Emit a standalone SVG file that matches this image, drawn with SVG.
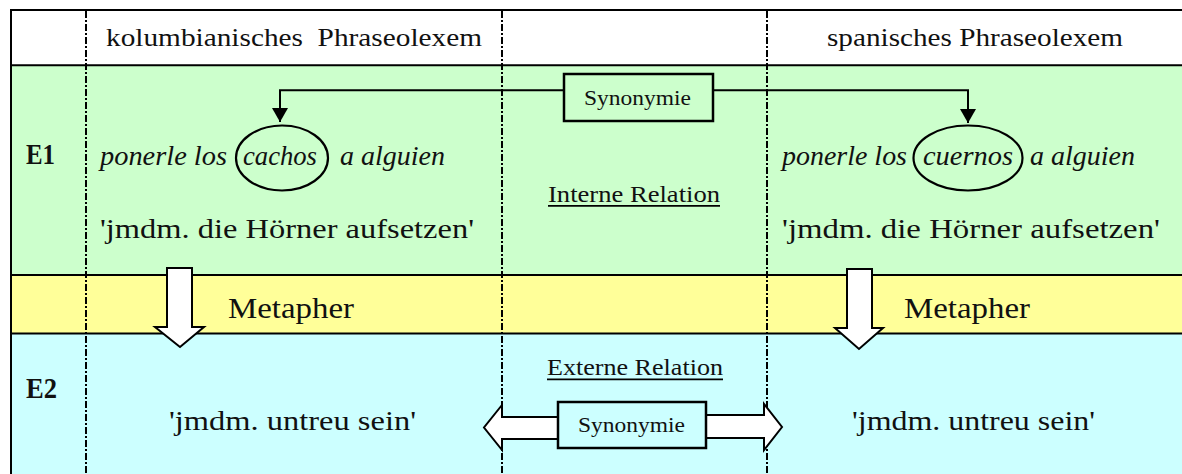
<svg xmlns="http://www.w3.org/2000/svg" width="1182" height="474" viewBox="0 0 1182 474">
  <style>
    .t { font-family: "Liberation Serif", "Times New Roman", serif; fill: #111; white-space: pre; }
    .hd { font-size: 26px; }
    .main { font-size: 27px; }
    .it { font-size: 27px; font-style: italic; }
    .lbl { font-size: 29px; font-weight: bold; }
    .met { font-size: 29px; }
    .syn { font-size: 22px; }
    .rel { font-size: 24px; }
    .grid { stroke: #000; stroke-width: 2; fill: none; }
    .dash { stroke: #000; stroke-width: 2; stroke-dasharray: 7 2 2 2; fill: none; }
    .line { stroke: #000; stroke-width: 2; fill: none; }
    .block { fill: #fff; stroke: #000; stroke-width: 2; stroke-linejoin: miter; }
    .box { stroke: #000; stroke-width: 2.5; }
    .ell { fill: none; stroke: #000; stroke-width: 2.2; }
    .ul { stroke: #000; stroke-width: 1.7; }
  </style>
  <defs>
    <!-- filled arrowhead, drawn pointing along the path direction -->
    <marker id="tri" viewBox="0 0 14 16" refX="14" refY="8" markerWidth="14" markerHeight="16" markerUnits="userSpaceOnUse" orient="auto">
      <path d="M0,0 L14,8 L0,16 Z" fill="#000"/>
    </marker>
  </defs>

  <!-- row backgrounds -->
  <rect x="0" y="0" width="1182" height="474" fill="#fff"/>
  <rect id="row-e1" x="11" y="65" width="1171" height="210" fill="#CCFFCC"/>
  <rect id="row-metapher" x="11" y="275" width="1171" height="58.5" fill="#FFFF99"/>
  <rect id="row-e2" x="11" y="333.5" width="1171" height="141" fill="#CCFFFF"/>

  <!-- table rules -->
  <g id="grid">
    <line class="grid" x1="11" y1="10" x2="1182" y2="10"/>
    <line class="grid" x1="11" y1="65.3" x2="1182" y2="65.3"/>
    <line class="grid" x1="11" y1="275" x2="1182" y2="275"/>
    <line class="grid" x1="11" y1="333.5" x2="1182" y2="333.5"/>
    <line class="grid" x1="11" y1="9" x2="11" y2="474"/>
    <line class="dash" x1="86" y1="11" x2="86" y2="474"/>
    <line class="dash" x1="502" y1="11" x2="502" y2="474"/>
    <line class="dash" x1="767" y1="11" x2="767" y2="474"/>
  </g>

  <!-- column headers -->
  <g id="header-kolumbianisch">
    <text class="t hd" x="106" y="46" textLength="376" lengthAdjust="spacingAndGlyphs">kolumbianisches  Phraseolexem</text>
  </g>
  <g id="header-spanisch">
    <text class="t hd" x="827" y="46" textLength="296" lengthAdjust="spacingAndGlyphs">spanisches Phraseolexem</text>
  </g>

  <!-- level labels -->
  <g id="label-e1"><text class="t lbl" x="26" y="164" textLength="29" lengthAdjust="spacingAndGlyphs">E1</text></g>
  <g id="label-e2"><text class="t lbl" x="26" y="398" textLength="31" lengthAdjust="spacingAndGlyphs">E2</text></g>

  <!-- connectors -->
  <g id="connectors">
    <polyline class="line" points="564,90.3 280,90.3 280,122" marker-end="url(#tri)"/>
    <polyline class="line" points="713,90.3 968,90.3 968,123" marker-end="url(#tri)"/>
    <!-- Metapher: downward block arrows -->
    <polygon class="block" points="167,268 192,268 192,327 204,327 180,347 155,327 167,327"/>
    <polygon class="block" points="847,269 872,269 872,328 883,328 859,349 835,328 847,328"/>
    <!-- external synonymy: double block arrow -->
    <polygon class="block" points="560,417 502,417 502,405 484,427.5 502,450 502,439 560,439"/>
    <polygon class="block" points="704,415 764,415 764,404 782,427 764,450 764,438 704,438"/>
  </g>

  <!-- Colombian phraseme -->
  <g id="phrase-kolumbianisch">
    <text class="t it" x="100" y="165" textLength="127" lengthAdjust="spacingAndGlyphs">ponerle los</text>
    <ellipse class="ell" cx="282" cy="158" rx="46" ry="32.5"/>
    <text class="t it" x="243" y="165" textLength="74" lengthAdjust="spacingAndGlyphs">cachos</text>
    <text class="t it" x="340" y="165" textLength="105" lengthAdjust="spacingAndGlyphs">a alguien</text>
    <text class="t main" x="100" y="238" textLength="374" lengthAdjust="spacingAndGlyphs">'jmdm. die Hörner aufsetzen'</text>
  </g>

  <!-- Spanish phraseme -->
  <g id="phrase-spanisch">
    <text class="t it" x="782" y="165" textLength="125" lengthAdjust="spacingAndGlyphs">ponerle los</text>
    <ellipse class="ell" cx="968" cy="158" rx="54.5" ry="32.5"/>
    <text class="t it" x="923" y="165" textLength="90" lengthAdjust="spacingAndGlyphs">cuernos</text>
    <text class="t it" x="1030" y="165" textLength="105" lengthAdjust="spacingAndGlyphs">a alguien</text>
    <text class="t main" x="782" y="238" textLength="378" lengthAdjust="spacingAndGlyphs">'jmdm. die Hörner aufsetzen'</text>
  </g>

  <!-- internal relation -->
  <g id="synonymie-intern">
    <rect class="box" x="564" y="74" width="149" height="47" fill="#CCFFCC"/>
    <text class="t syn" x="584" y="105" textLength="107" lengthAdjust="spacingAndGlyphs">Synonymie</text>
  </g>
  <g id="interne-relation">
    <text class="t rel" x="548" y="202" textLength="172" lengthAdjust="spacingAndGlyphs">Interne Relation</text>
    <line class="ul" x1="548" y1="205.8" x2="720" y2="205.8"/>
  </g>

  <!-- metaphor labels -->
  <g id="metapher-links"><text class="t met" x="228" y="318" textLength="126" lengthAdjust="spacingAndGlyphs">Metapher</text></g>
  <g id="metapher-rechts"><text class="t met" x="904" y="318" textLength="126" lengthAdjust="spacingAndGlyphs">Metapher</text></g>

  <!-- E2 meanings -->
  <g id="bedeutung-kolumbianisch"><text class="t main" x="169" y="430" textLength="247" lengthAdjust="spacingAndGlyphs">'jmdm. untreu sein'</text></g>
  <g id="bedeutung-spanisch"><text class="t main" x="852" y="430" textLength="243" lengthAdjust="spacingAndGlyphs">'jmdm. untreu sein'</text></g>

  <!-- external relation -->
  <g id="externe-relation">
    <text class="t rel" x="547" y="375" textLength="176" lengthAdjust="spacingAndGlyphs">Externe Relation</text>
    <line class="ul" x1="547" y1="379.4" x2="723" y2="379.4"/>
  </g>
  <g id="synonymie-extern">
    <rect class="box" x="558" y="402" width="148" height="46" fill="#CCFFFF"/>
    <text class="t syn" x="578" y="432" textLength="107" lengthAdjust="spacingAndGlyphs">Synonymie</text>
  </g>
</svg>
